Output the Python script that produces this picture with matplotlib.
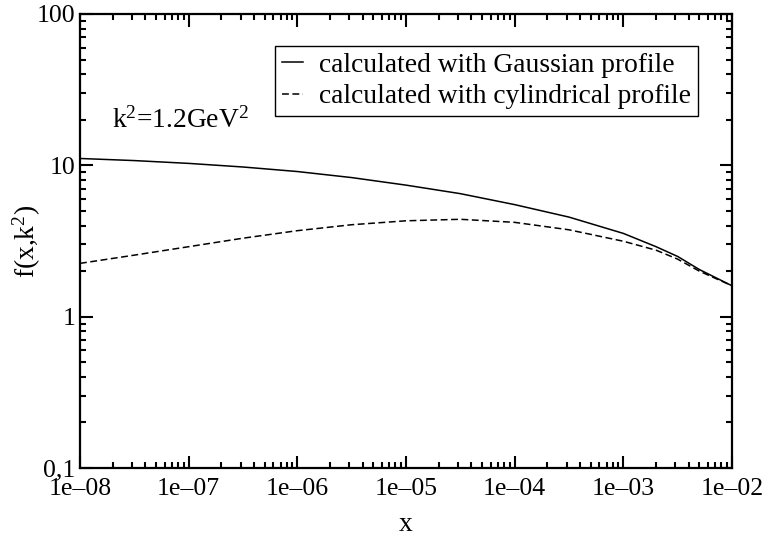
import matplotlib

matplotlib.use("Agg")
import matplotlib.pyplot as plt
from matplotlib.ticker import LogLocator, NullFormatter

plt.rcParams["font.family"] = ["Liberation Serif", "DejaVu Serif"]
plt.rcParams["mathtext.fontset"] = "custom"
plt.rcParams["mathtext.rm"] = "Liberation Serif"
plt.rcParams["mathtext.it"] = "Liberation Serif:italic"

# values
x_vals = [1e-8, 3.16e-8, 1e-7, 3.16e-7, 1e-6, 3.16e-6, 1e-5, 3.16e-5,
          1e-4, 3.16e-4, 1e-3, 2e-3, 3.16e-3, 5e-3, 1e-2]
gauss = [11.1, 10.75, 10.3, 9.75, 9.1, 8.3, 7.4, 6.5,
         5.5, 4.55, 3.55, 2.9, 2.5, 2.05, 1.6]
cyl = [2.25, 2.55, 2.9, 3.3, 3.7, 4.05, 4.3, 4.4,
       4.2, 3.75, 3.15, 2.75, 2.4, 2.0, 1.6]

xticks = [1e-8, 1e-7, 1e-6, 1e-5, 1e-4, 1e-3, 1e-2]
xticklabels = ["1e\u201308", "1e\u201307", "1e\u201306", "1e\u201305",
               "1e\u201304", "1e\u201303", "1e\u201302"]
yticks = [0.1, 1, 10, 100]
yticklabels = ["0,1", "1", "10", "100"]

FS = 18.5
LFS = 19.8

fig = plt.figure(figsize=(7.71, 5.38), dpi=100)
ax = fig.add_axes([80 / 771, 1 - 468 / 538, 652 / 771, 454 / 538])

ax.plot(x_vals, gauss, color="black", lw=1.1, label="calculated with Gaussian profile")
ax.plot(x_vals, cyl, color="black", lw=1.1, dashes=(4.5, 2.3),
        label="calculated with cylindrical profile")

ax.set_xscale("log")
ax.set_yscale("log")
ax.set_xlim(1e-8, 1e-2)
ax.set_ylim(0.1, 100)

ax.set_xticks(xticks)
ax.set_xticklabels(xticklabels)
ax.set_yticks(yticks)
ax.set_yticklabels(yticklabels)
ax.xaxis.set_minor_locator(LogLocator(base=10, subs=range(2, 10)))
ax.yaxis.set_minor_locator(LogLocator(base=10, subs=range(2, 10)))
ax.xaxis.set_minor_formatter(NullFormatter())
ax.yaxis.set_minor_formatter(NullFormatter())

ax.tick_params(which="both", direction="in", top=True, right=True, width=1.5,
               labelsize=FS)
ax.tick_params(which="major", length=9)
ax.tick_params(which="minor", length=4)
ax.tick_params(axis="x", which="major", pad=7)
for s in ax.spines.values():
    s.set_linewidth(1.6)

ax.set_xlabel("x", fontsize=LFS, labelpad=9)
ax.set_ylabel(r"f(x,k$^2$)", fontsize=LFS)
ax.yaxis.set_label_coords(-0.056, 0.5)

ax.text(0.049, 0.766, r"k$^2$=1.2GeV$^2$", transform=ax.transAxes,
        fontsize=LFS, va="center", ha="left")

leg = ax.legend(loc="upper right", bbox_to_anchor=(0.948, 0.930), fontsize=LFS,
                frameon=True, fancybox=False, edgecolor="black", framealpha=1,
                handlelength=0.75, handletextpad=0.6, borderpad=0.25,
                labelspacing=0.22, borderaxespad=0)
leg.get_frame().set_linewidth(1.0)

fig.savefig("out.png", dpi=100)
